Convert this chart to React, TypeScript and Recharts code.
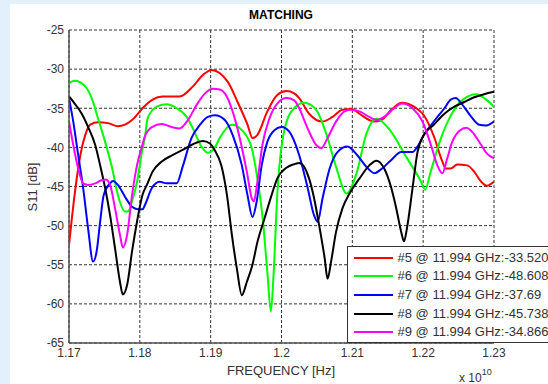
import React from 'react';
import { LineChart, Line, XAxis, YAxis, CartesianGrid, Legend } from 'recharts';

// Frequencies in units of 1e10 Hz, values in dB
const f5 = [1.17, 1.1708, 1.1716, 1.1723, 1.173, 1.1741, 1.1755, 1.1769, 1.1779, 1.1789, 1.1807, 1.1818, 1.1832, 1.1856, 1.1875, 1.1889, 1.1901, 1.1924, 1.1938, 1.1952, 1.1959, 1.1966, 1.198, 1.1994, 1.2007, 1.2018, 1.2025, 1.2039, 1.2058, 1.2072, 1.2086, 1.2099, 1.211, 1.2124, 1.2131, 1.2141, 1.2155, 1.217, 1.2187, 1.2201, 1.2216, 1.2227, 1.2232, 1.2239, 1.2248, 1.2262, 1.2272, 1.2282, 1.229, 1.23];
const s5 = [-52.5, -46, -41, -38.4, -37.1, -36.8, -36.9, -37.3, -37.1, -36.5, -34.7, -33.9, -33.5, -33.5, -32.2, -30.75, -30.1, -31.6, -34.2, -37.1, -38.8, -38.4, -35.4, -33.3, -32.8, -33.1, -33.7, -35.7, -36.7, -36.1, -35.2, -35.1, -35.7, -36.5, -36.7, -36.5, -35.2, -34.3, -34.8, -35.9, -38.8, -41.8, -42.7, -42.7, -42.2, -42.3, -43.1, -44.4, -44.9, -44.4];

const f6 = [1.17, 1.1708, 1.1723, 1.1732, 1.1741, 1.1751, 1.1761, 1.1769, 1.1779, 1.1783, 1.1789, 1.1796, 1.1803, 1.1807, 1.1811, 1.1824, 1.1838, 1.1852, 1.1866, 1.1875, 1.1887, 1.1896, 1.1906, 1.1914, 1.193, 1.1944, 1.1958, 1.1966, 1.1973, 1.198, 1.1985, 1.1989, 1.1994, 1.2001, 1.2014, 1.2032, 1.2049, 1.2063, 1.2077, 1.2092, 1.2106, 1.212, 1.2134, 1.2153, 1.2176, 1.2196, 1.2203, 1.221, 1.2224, 1.2238, 1.2256, 1.2275, 1.2289, 1.23];
const s6 = [-31.8, -31.5, -32.2, -33.7, -36.3, -39.3, -42.7, -46.1, -48.2, -48.2, -46.9, -44.4, -40.6, -38.8, -36.3, -34.8, -34.5, -35.0, -36.1, -37.6, -39.9, -40.7, -40.0, -38.6, -37.1, -37.8, -40.1, -44.0, -48.7, -55.9, -61.0, -55.9, -46.1, -39.3, -35.4, -34.3, -35.2, -38.2, -42.5, -45.9, -43.3, -38.2, -36.3, -37.8, -41.2, -44.2, -45.4, -43.3, -39.1, -36.1, -33.9, -33.2, -33.9, -34.8];

const f7 = [1.17, 1.1706, 1.1713, 1.172, 1.1727, 1.1734, 1.1739, 1.1744, 1.1749, 1.1758, 1.1762, 1.1769, 1.1779, 1.1789, 1.1797, 1.1804, 1.1807, 1.1817, 1.1828, 1.1838, 1.1852, 1.1861, 1.1873, 1.1885, 1.1896, 1.1906, 1.192, 1.1931, 1.1944, 1.1952, 1.1959, 1.1965, 1.1972, 1.198, 1.199, 1.2, 1.2011, 1.2025, 1.2037, 1.2046, 1.2051, 1.2058, 1.2068, 1.2079, 1.2093, 1.2107, 1.212, 1.2131, 1.2142, 1.2155, 1.2169, 1.2185, 1.2192, 1.2201, 1.2215, 1.223, 1.2239, 1.2246, 1.2254, 1.2268, 1.2279, 1.2289, 1.23];
const s7 = [-33.7, -36.7, -41, -45.2, -50.4, -54.6, -53.3, -49.5, -46.1, -44.6, -44.3, -44.8, -46.3, -47.6, -47.9, -47.9, -47.4, -45.2, -44.4, -44.6, -44.6, -42.3, -38.8, -37.1, -36.1, -35.9, -36.5, -38.4, -42.3, -46.1, -48.9, -46.9, -42.3, -39.3, -37.8, -37.4, -38.0, -41, -45.2, -48.7, -49.5, -46.5, -42.7, -40.6, -39.9, -41, -42.5, -43.3, -42.7, -41.6, -40.6, -40.6, -39.9, -38.4, -36.7, -35.0, -33.9, -33.7, -34.4, -36.1, -37.1, -37.2, -36.7];

const f8 = [1.17, 1.1708, 1.1718, 1.1727, 1.1737, 1.1744, 1.1751, 1.1758, 1.1765, 1.1772, 1.1776, 1.1782, 1.1789, 1.1796, 1.1804, 1.181, 1.1818, 1.1831, 1.1846, 1.1861, 1.1875, 1.1889, 1.1899, 1.1906, 1.1915, 1.1923, 1.193, 1.1937, 1.1944, 1.1951, 1.1959, 1.1966, 1.1976, 1.1986, 1.1994, 1.2007, 1.2016, 1.2025, 1.2039, 1.2046, 1.2054, 1.2061, 1.2065, 1.207, 1.2077, 1.2086, 1.2096, 1.211, 1.2124, 1.2134, 1.2145, 1.2155, 1.2162, 1.2169, 1.2173, 1.2177, 1.2185, 1.2192, 1.2201, 1.2215, 1.223, 1.2244, 1.2258, 1.2272, 1.2286, 1.23];
const s8 = [-33.5, -34.4, -35.7, -37.4, -39.7, -42.3, -45.2, -48.7, -52.9, -57.2, -58.8, -57.6, -53.3, -49.5, -46.0, -44.8, -43.1, -41.8, -41.0, -40.3, -39.6, -39.2, -39.5, -40.4, -42.3, -46.1, -51.2, -55.5, -58.9, -57.2, -55.0, -52.1, -49.1, -46.1, -44.0, -42.6, -42.2, -42.0, -44.0, -46.5, -50.4, -54.2, -56.8, -54.6, -50.8, -47.8, -45.9, -44.0, -42.3, -41.7, -42.7, -45.2, -47.8, -50.8, -52.0, -50.4, -45.2, -40.6, -38.4, -37.1, -35.7, -34.8, -34.2, -33.6, -33.2, -32.9];

const f9 = [1.17, 1.1706, 1.1713, 1.172, 1.1727, 1.1737, 1.1746, 1.1752, 1.1758, 1.1765, 1.1772, 1.1776, 1.1782, 1.1789, 1.1796, 1.1803, 1.1807, 1.1817, 1.1831, 1.1845, 1.1856, 1.1868, 1.188, 1.1892, 1.1903, 1.1913, 1.192, 1.1931, 1.1941, 1.1951, 1.1958, 1.1961, 1.1966, 1.1973, 1.1983, 1.1994, 1.2007, 1.2018, 1.2025, 1.2037, 1.2049, 1.2056, 1.2065, 1.2077, 1.2089, 1.2099, 1.211, 1.2124, 1.2134, 1.2145, 1.2159, 1.217, 1.2185, 1.2199, 1.2211, 1.222, 1.2227, 1.2234, 1.2241, 1.2251, 1.2261, 1.2269, 1.2282, 1.229, 1.23];
const s9 = [-36.7, -39.7, -42.7, -44.6, -44.8, -44.6, -44.2, -44.1, -44.8, -47.8, -51.2, -52.8, -51.2, -46.1, -42.3, -39.9, -38.6, -37.4, -37.0, -37.4, -37.6, -36.5, -34.6, -33.1, -32.5, -32.6, -33.1, -35.4, -38.8, -43.1, -46.5, -46.9, -44.4, -39.7, -36.3, -34.4, -33.7, -34.0, -35.0, -37.6, -39.7, -40.1, -38.8, -36.7, -35.4, -35.2, -35.4, -36.1, -36.5, -36.1, -35.0, -34.4, -35.0, -36.7, -39.7, -42.3, -43.3, -41.4, -39.3, -37.9, -37.5, -38.0, -39.7, -40.8, -41.4];

const xTicks = [1.17, 1.18, 1.19, 1.2, 1.21, 1.22, 1.23];
const yTicks = [-65, -60, -55, -50, -45, -40, -35, -30, -25];

const seriesNames = [
  '#5 @ 11.994 GHz:-33.5200',
  '#6 @ 11.994 GHz:-48.6080',
  '#7 @ 11.994 GHz:-37.69',
  '#8 @ 11.994 GHz:-45.7387',
  '#9 @ 11.994 GHz:-34.866',
];
const seriesColors = ['#ff0000', '#00ff00', '#0000ff', '#000000', '#ff00ff'];

const zip = (fs: number[], vs: number[]) => fs.map((f, i) => ({ f, v: vs[i] }));
const seriesData = [zip(f5, s5), zip(f6, s6), zip(f7, s7), zip(f8, s8), zip(f9, s9)];

const FONT = '"Liberation Sans", Arial, Helvetica, sans-serif';

const LegendBox = () => (
  <div
    style={{
      position: 'relative',
      width: 210,
      height: 97,
      background: '#fff',
      border: '1px solid #333',
      boxSizing: 'border-box',
      fontFamily: FONT,
    }}
  >
    {seriesNames.map((name, i) => (
      <div key={name} style={{ position: 'absolute', left: 0, top: 10.7 + i * 18.6 - 9, height: 18, width: 210 }}>
        <div style={{ position: 'absolute', left: 6, top: 8, width: 39, height: 2, background: seriesColors[i] }} />
        <div style={{ position: 'absolute', left: 49.5, top: 0, lineHeight: '18px', fontSize: 13, color: '#333', whiteSpace: 'nowrap' }}>
          {name}
        </div>
      </div>
    ))}
  </div>
);

export default function App() {
  return (
    <div style={{ position: 'absolute', left: 0, top: 0, width: 548, height: 384, overflow: 'hidden', background: '#e1f0fb', fontFamily: FONT }}>
      <div style={{ position: 'absolute', left: 10, top: 4, right: 0, bottom: 0, background: '#ffffff' }} />
      <div style={{ position: 'absolute', left: 0, top: 0 }}>
        <LineChart width={548} height={384} margin={{ top: 30, right: 54, left: 29, bottom: 11 }}>
          <CartesianGrid stroke="#333" strokeDasharray="3 2" strokeWidth={1} />
          <XAxis
            type="number"
            dataKey="f"
            domain={[1.17, 1.23]}
            ticks={xTicks}
            allowDataOverflow
            height={30}
            tickSize={0}
            tickMargin={5}
            tickFormatter={(t: number) => t.toFixed(2).replace(/0$/, (m) => (t.toFixed(2) === '1.20' ? '' : m))}
            tick={{ fill: '#333', fontSize: 12, fontFamily: FONT }}
            axisLine={{ stroke: '#555', strokeWidth: 1.5 }}
          />
          <YAxis
            type="number"
            domain={[-65, -25]}
            ticks={yTicks}
            allowDataOverflow
            width={40}
            tickSize={0}
            tickMargin={5}
            tick={{ fill: '#333', fontSize: 12, fontFamily: FONT }}
            axisLine={{ stroke: '#555', strokeWidth: 1.5 }}
          />
          {seriesData.map((d, i) => (
            <Line
              key={seriesNames[i]}
              data={d}
              dataKey="v"
              name={seriesNames[i]}
              type="monotone"
              stroke={seriesColors[i]}
              strokeWidth={2}
              dot={false}
              isAnimationActive={false}
            />
          ))}
          <Legend
            layout="vertical"
            align="center"
            verticalAlign="middle"
            content={() => <LegendBox />}
            wrapperStyle={{ position: 'absolute', left: 347, top: 246, width: 210, height: 97 }}
          />
        </LineChart>
      </div>
      <div style={{ position: 'absolute', left: 181, width: 200, top: 7, textAlign: 'center', fontSize: 12, fontWeight: 'bold', color: '#000', lineHeight: '16px' }}>
        MATCHING
      </div>
      <div style={{ position: 'absolute', left: 181, width: 200, top: 362, textAlign: 'center', fontSize: 13, color: '#333', lineHeight: '18px' }}>
        FREQUENCY [Hz]
      </div>
      <div
        style={{
          position: 'absolute',
          left: 33 - 50,
          top: 187 - 9,
          width: 100,
          textAlign: 'center',
          fontSize: 13,
          color: '#333',
          lineHeight: '18px',
          transform: 'rotate(-90deg)',
        }}
      >
        S11 [dB]
      </div>
      <div style={{ position: 'absolute', left: 459, top: 370, fontSize: 12, color: '#333', lineHeight: '16px', whiteSpace: 'nowrap' }}>
        x 10<span style={{ fontSize: 9, position: 'relative', top: -7 }}>10</span>
      </div>
    </div>
  );
}
